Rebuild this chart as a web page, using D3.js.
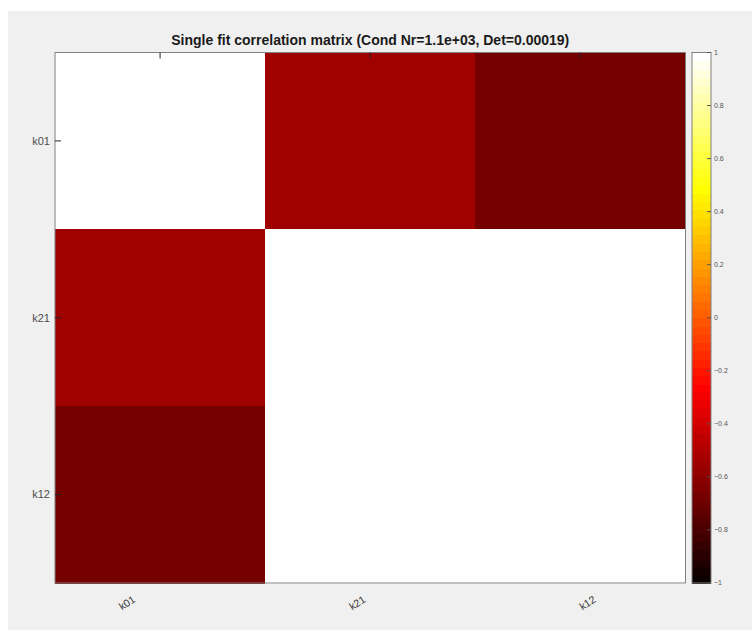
<!DOCTYPE html>
<html>
<head>
<meta charset="utf-8">
<script src="https://cdn.jsdelivr.net/npm/d3@7/dist/d3.min.js"></script>
<style>
  html, body { margin: 0; padding: 0; background: #ffffff; }
  svg { display: block; }
  text { font-family: "Liberation Sans", Arial, Helvetica, sans-serif; }
</style>
</head>
<body>
<svg id="chart" width="752" height="630"></svg>
<script>
// Parameter names (rows and columns of the correlation matrix)
const params = ["k01", "k21", "k12"];
// Correlation matrix rows
const rowK01 = [1.00, -0.55, -0.67];
const rowK21 = [-0.55, 1.00, 0.98];
const rowK12 = [-0.67, 0.98, 1.00];
const corr = [rowK01, rowK21, rowK12];
// Colorbar tick labels
const cbarTicks = [-1, -0.8, -0.6, -0.4, -0.2, 0, 0.2, 0.4, 0.6, 0.8, 1];
const titleText = "Single fit correlation matrix (Cond Nr=1.1e+03, Det=0.00019)";

const svg = d3.select("#chart");
const W = 752, H = 630;

// figure background panel
svg.append("rect").attr("x", 8).attr("y", 11).attr("width", W - 8).attr("height", H - 11)
  .attr("fill", "#f0f0f0");

const plot = { x0: 55, x1: 685.5, y0: 52.5, y1: 583 };
const cbar = { x0: 692, x1: 711 };

// MATLAB-like "hot" colormap with 64 entries
const M = 64;
const n = Math.floor(3 / 8 * M);
const hot = d3.range(M).map(i => {
  const k = i + 1;
  const r = k <= n ? k / n : 1;
  const g = k <= n ? 0 : (k <= 2 * n ? (k - n) / n : 1);
  const b = k <= 2 * n ? 0 : (k - 2 * n) / (M - 2 * n);
  return d3.rgb(Math.round(r * 255), Math.round(g * 255), Math.round(b * 255)).toString();
});
const colorIndex = d3.scaleQuantize().domain([-1, 1]).range(d3.range(M));
const color = v => hot[colorIndex(v)];

const x = d3.scaleBand().domain(params).range([plot.x0, plot.x1]);
const y = d3.scaleBand().domain(params).range([plot.y0, plot.y1]);
// rotated x tick labels are spread a little wider than the column centres
const xLabel = d3.scalePoint().domain(params).range([plot.x0 + 74, plot.x1 - 96]);

// matrix cells
const cells = [];
corr.forEach((row, i) => row.forEach((v, j) => cells.push({ r: params[i], c: params[j], v })));
svg.append("g").selectAll("rect").data(cells).join("rect")
  .attr("x", d => x(d.c)).attr("y", d => y(d.r))
  .attr("width", x.bandwidth() + 0.5).attr("height", y.bandwidth() + 0.5)
  .attr("fill", d => color(d.v))
  .attr("shape-rendering", "crispEdges");

// axes frame
const axisColor = "#808080";
svg.append("rect").attr("x", plot.x0).attr("y", plot.y0)
  .attr("width", plot.x1 - plot.x0).attr("height", plot.y1 - plot.y0)
  .attr("fill", "none").attr("stroke", axisColor).attr("stroke-width", 1);

// y axis: ticks pointing inward, labels on the left
const yAxis = svg.append("g").attr("transform", `translate(${plot.x0},0)`);
params.forEach(p => {
  const yc = y(p) + y.bandwidth() / 2;
  yAxis.append("line").attr("x1", 0).attr("x2", 6).attr("y1", yc).attr("y2", yc)
    .attr("stroke", "#262626").attr("stroke-width", 1);
  yAxis.append("text").attr("x", -5).attr("y", yc).attr("dy", "0.35em")
    .attr("text-anchor", "end").attr("font-size", 11).attr("fill", "#4d4d4d").text(p);
});

// x axis ticks along the top edge, rotated labels below the plot
const xAxis = svg.append("g");
params.forEach(p => {
  const xc = x(p) + x.bandwidth() / 2;
  xAxis.append("line").attr("x1", xc).attr("x2", xc).attr("y1", plot.y0).attr("y2", plot.y0 + 6)
    .attr("stroke", "#262626").attr("stroke-width", 1);
  xAxis.append("text")
    .attr("transform", `translate(${xLabel(p)},${plot.y1 + 23}) rotate(-33)`)
    .attr("text-anchor", "middle").attr("font-size", 10.5).attr("fill", "#333333").text(p);
});

// title
svg.append("text").attr("x", (plot.x0 + plot.x1) / 2).attr("y", 45)
  .attr("text-anchor", "middle").attr("font-size", 14).attr("font-weight", "bold")
  .attr("fill", "#1a1a1a").text(titleText);

// colorbar
const cy = d3.scaleLinear().domain([-1, 1]).range([plot.y1, plot.y0]);
const step = 2 / M;
svg.append("g").selectAll("rect").data(hot).join("rect")
  .attr("x", cbar.x0).attr("width", cbar.x1 - cbar.x0)
  .attr("y", (d, i) => cy(-1 + (i + 1) * step))
  .attr("height", (d, i) => cy(-1 + i * step) - cy(-1 + (i + 1) * step) + 0.5)
  .attr("fill", d => d)
  .attr("shape-rendering", "crispEdges");
svg.append("rect").attr("x", cbar.x0).attr("y", plot.y0)
  .attr("width", cbar.x1 - cbar.x0).attr("height", plot.y1 - plot.y0)
  .attr("fill", "none").attr("stroke", axisColor).attr("stroke-width", 1);

const cAxis = svg.append("g");
cbarTicks.forEach(t => {
  const yy = cy(t);
  cAxis.append("line").attr("x1", cbar.x1 - 4).attr("x2", cbar.x1).attr("y1", yy).attr("y2", yy)
    .attr("stroke", "#555555").attr("stroke-width", 1);
  cAxis.append("text").attr("x", cbar.x1 + 3).attr("y", yy).attr("dy", "0.35em")
    .attr("font-size", 7).attr("fill", "#555555").text(d3.format("~g")(t));
});
</script>
</body>
</html>
